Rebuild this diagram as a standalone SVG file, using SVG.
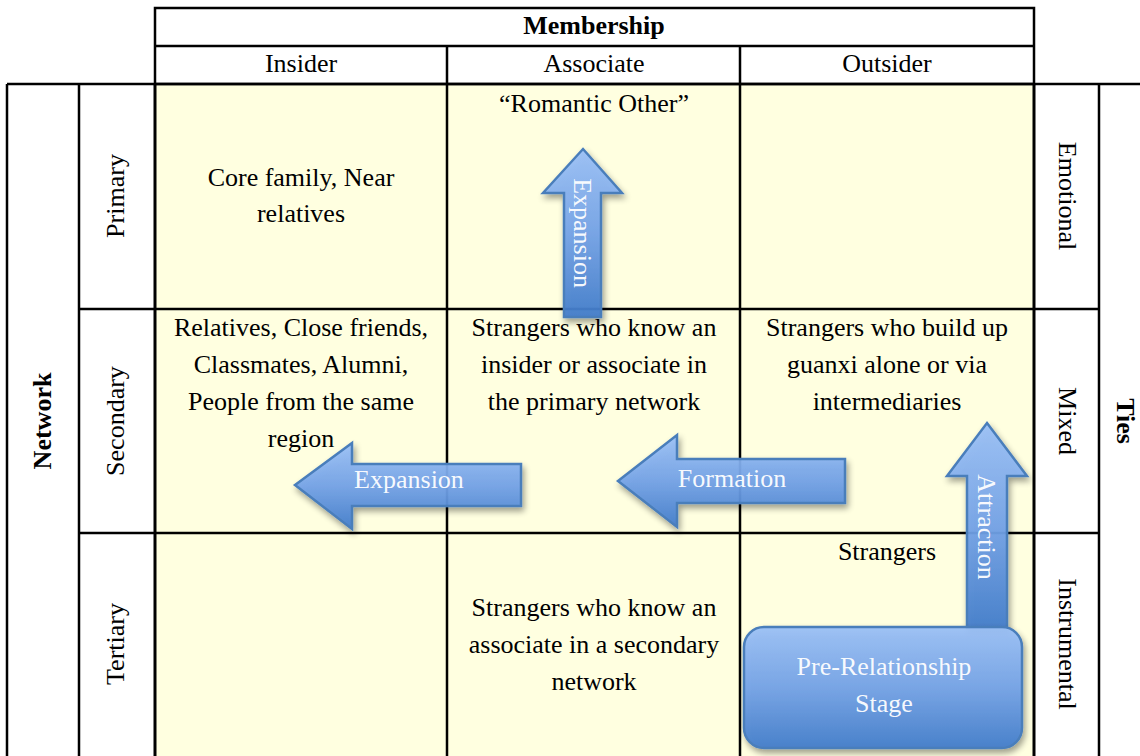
<svg xmlns="http://www.w3.org/2000/svg" width="1140" height="756" viewBox="0 0 1140 756">
  <defs>
    <linearGradient id="blueFill" x1="0" y1="0" x2="0" y2="1">
      <stop offset="0" stop-color="#9AC0F7"/>
      <stop offset="0.5" stop-color="#74A3E8"/>
      <stop offset="1" stop-color="#427DCC"/>
    </linearGradient>
    <filter id="shadow" x="-20%" y="-20%" width="150%" height="150%">
      <feGaussianBlur in="SourceAlpha" stdDeviation="3"/>
      <feOffset dx="2" dy="4" result="blur"/>
      <feComponentTransfer><feFuncA type="linear" slope="0.4"/></feComponentTransfer>
      <feMerge><feMergeNode/><feMergeNode in="SourceGraphic"/></feMerge>
    </filter>
    <style>
      .cell { fill: #FFFFE0; }
      .grid { stroke: #000; stroke-width: 2.5; fill: none; }
      .t { font-family: "Liberation Serif", "Times New Roman", serif; font-size: 26px; fill: #000; text-anchor: middle; }
      .b { font-weight: bold; }
      .shape { fill: url(#blueFill); stroke: #4A7EBB; stroke-width: 2.5; fill-opacity: 0.93; filter: url(#shadow); }
      .w { font-family: "Liberation Serif", "Times New Roman", serif; font-size: 26px; fill: #FFFFFF; fill-opacity: 0.95; text-anchor: middle; }
    </style>
  </defs>

  <rect width="1140" height="756" fill="#FFFFFF"/>

  <!-- yellow body cells -->
  <rect class="cell" x="155" y="84" width="879" height="672"/>

  <!-- table rules -->
  <g id="table-lines" class="grid">
    <rect x="155" y="8" width="879" height="76"/>
    <line x1="155" y1="46" x2="1034" y2="46"/>
    <line x1="447" y1="46" x2="447" y2="756"/>
    <line x1="740" y1="46" x2="740" y2="756"/>
    <line x1="7" y1="84" x2="1140" y2="84"/>
    <line x1="7" y1="84" x2="7" y2="756"/>
    <line x1="79" y1="84" x2="79" y2="756"/>
    <line x1="155" y1="84" x2="155" y2="756" stroke-width="3"/>
    <line x1="1034" y1="84" x2="1034" y2="756" stroke-width="3"/>
    <line x1="1099" y1="84" x2="1099" y2="756"/>
    <line x1="79" y1="309" x2="1099" y2="309"/>
    <line x1="79" y1="533" x2="1099" y2="533"/>
  </g>

  <!-- header labels -->
  <g id="header">
    <text class="t b" x="594" y="34">Membership</text>
    <text class="t" x="301" y="72">Insider</text>
    <text class="t" x="594" y="72">Associate</text>
    <text class="t" x="887" y="72">Outsider</text>
  </g>

  <!-- side labels -->
  <g id="network-labels">
    <text class="t b" transform="translate(51,421) rotate(-90)">Network</text>
    <text class="t" transform="translate(124,196) rotate(-90)">Primary</text>
    <text class="t" transform="translate(124,421) rotate(-90)">Secondary</text>
    <text class="t" transform="translate(124,644) rotate(-90)">Tertiary</text>
  </g>
  <g id="ties-labels">
    <text class="t" transform="translate(1059,196) rotate(90)">Emotional</text>
    <text class="t" transform="translate(1059,421) rotate(90)">Mixed</text>
    <text class="t" transform="translate(1059,644) rotate(90)">Instrumental</text>
    <text class="t b" transform="translate(1117,421) rotate(90)">Ties</text>
  </g>

  <!-- cell contents -->
  <g id="cell-insider-primary">
    <text class="t" x="301" y="186">Core family, Near</text>
    <text class="t" x="301" y="222">relatives</text>
  </g>
  <g id="cell-associate-primary">
    <text class="t" x="594" y="112">“Romantic Other”</text>
  </g>
  <g id="cell-insider-secondary">
    <text class="t" x="301" y="336">Relatives, Close friends,</text>
    <text class="t" x="301" y="373">Classmates, Alumni,</text>
    <text class="t" x="301" y="410">People from the same</text>
    <text class="t" x="301" y="447">region</text>
  </g>
  <g id="cell-associate-secondary">
    <text class="t" x="594" y="336">Strangers who know an</text>
    <text class="t" x="594" y="373">insider or associate in</text>
    <text class="t" x="594" y="410">the primary network</text>
  </g>
  <g id="cell-outsider-secondary">
    <text class="t" x="887" y="336">Strangers who build up</text>
    <text class="t" x="887" y="373">guanxi alone or via</text>
    <text class="t" x="887" y="410">intermediaries</text>
  </g>
  <g id="cell-associate-tertiary">
    <text class="t" x="594" y="616">Strangers who know an</text>
    <text class="t" x="594" y="653">associate in a secondary</text>
    <text class="t" x="594" y="690">network</text>
  </g>
  <g id="cell-outsider-tertiary">
    <text class="t" x="887" y="560">Strangers</text>
  </g>

  <!-- block arrows -->
  <g id="connectors">
    <g id="arrow-expansion-up">
      <polygon class="shape" points="583,149 622,193 601,193 601,317 564,317 564,193 543,193"/>
      <text class="w" transform="translate(574,233) rotate(90)">Expansion</text>
    </g>
    <g id="arrow-expansion-left">
      <polygon class="shape" points="295,485 352,443 352,464 521,464 521,506 352,506 352,529"/>
      <text class="w" x="409" y="488">Expansion</text>
    </g>
    <g id="arrow-formation">
      <polygon class="shape" points="618,481 677,435 677,459 845,459 845,503 677,503 677,527"/>
      <text class="w" x="732" y="487">Formation</text>
    </g>
    <g id="arrow-attraction">
      <polygon class="shape" points="987,423 1027,476 1007,476 1007,628 967,628 967,476 947,476"/>
      <text class="w" transform="translate(978,527) rotate(90)">Attraction</text>
    </g>
  </g>

  <!-- starting stage -->
  <g id="pre-relationship">
    <rect class="shape" x="744" y="627" width="278" height="121" rx="20" ry="20"/>
    <text class="w" x="884" y="675">Pre-Relationship</text>
    <text class="w" x="884" y="712">Stage</text>
  </g>
</svg>
